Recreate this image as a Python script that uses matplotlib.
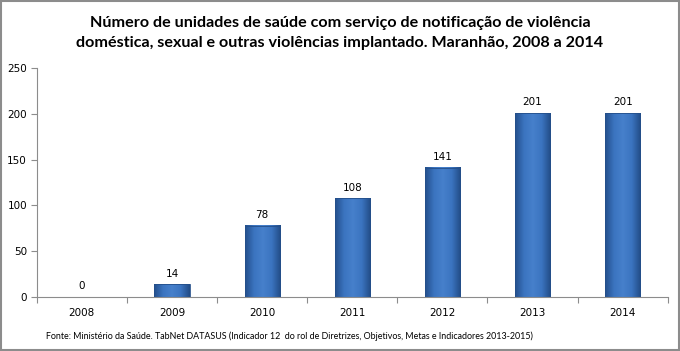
import numpy as np
import matplotlib.pyplot as plt
from matplotlib.colors import LinearSegmentedColormap
from matplotlib.patches import Rectangle

anos = ["2008", "2009", "2010", "2011", "2012", "2013", "2014"]
unidades = [0, 14, 78, 108, 141, 201, 201]

titulo = ("Número de unidades de saúde com serviço de notificação de violência\n"
          "doméstica, sexual e outras violências implantado. Maranhão, 2008 a 2014")
fonte = ("Fonte: Ministério da Saúde. TabNet DATASUS (Indicador 12  do rol de Diretrizes, "
         "Objetivos, Metas e Indicadores 2013-2015)")

fig = plt.figure(figsize=(6.8, 3.51), dpi=100)
fig.patch.set_facecolor("white")
fig.add_artist(Rectangle((0.002, 0.003), 0.996, 0.994, transform=fig.transFigure,
                         fill=False, edgecolor="#8c8c8c", linewidth=1.5))

ax = fig.add_axes([0.054, 0.154, 0.928, 0.652])
x = np.arange(len(anos))
bars = ax.bar(x, unidades, width=0.39, color="none", edgecolor="none", zorder=2)

# gradiente horizontal em cada barra
cmap = LinearSegmentedColormap.from_list("azul", ["#24508c", "#3b74c0", "#4680cb", "#3b74c0", "#224c86"])
grad = np.linspace(0, 1, 64).reshape(1, -1)
for b in bars:
    h = b.get_height()
    if h <= 0:
        continue
    x0 = b.get_x()
    w = b.get_width()
    ax.imshow(grad, cmap=cmap, extent=(x0, x0 + w, 0, h), aspect="auto", zorder=2)
    ax.add_patch(Rectangle((x0, 0), w, h, fill=False, edgecolor="#244f8a", linewidth=0.6, zorder=3))

for xi, v in zip(x, unidades):
    ax.text(xi, v + 6, str(v), ha="center", va="bottom", fontsize=7.5, family="DejaVu Sans")

ax.set_xlim(-0.5, len(anos) - 0.5)
ax.set_ylim(0, 250)
ax.set_yticks(range(0, 251, 50))
ax.set_xticks(np.arange(-0.5, len(anos), 1), minor=False)
ax.set_xticklabels([])
ax.set_xticks(x, minor=True)
ax.set_xticklabels(anos, minor=True)
ax.tick_params(axis="x", which="minor", length=0, pad=8, labelsize=7.5)
ax.tick_params(axis="x", which="major", length=4, direction="out", color="#8c8c8c")
ax.tick_params(axis="y", length=4, direction="out", color="#8c8c8c", labelsize=7.5, pad=3)
for s in ["top", "right"]:
    ax.spines[s].set_visible(False)
for s in ["left", "bottom"]:
    ax.spines[s].set_color("#8c8c8c")
ax.set_facecolor("none")

fig.text(0.5, 0.955, titulo, ha="center", va="top", fontsize=11.6, fontweight="bold",
         family="Lato", linespacing=1.55)
fig.text(0.067, 0.043, fonte, ha="left", va="center", fontsize=6.4, family="Lato")

fig.savefig("out.png", dpi=100)
